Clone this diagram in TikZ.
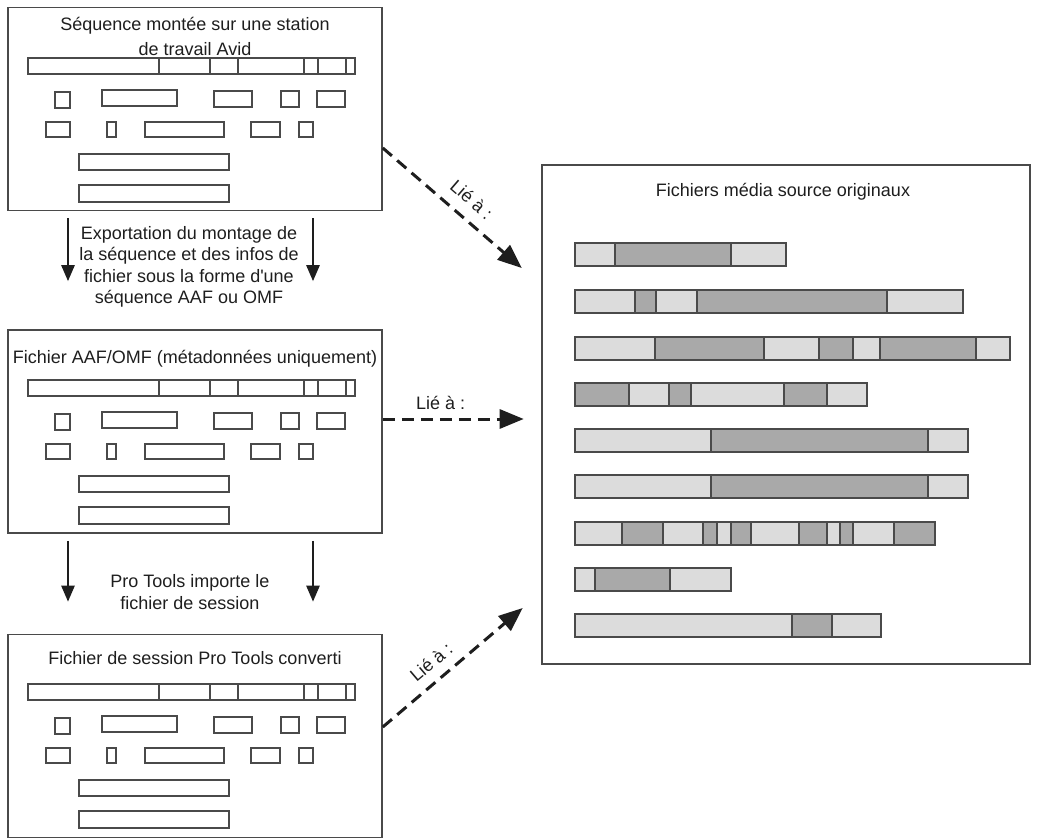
\documentclass[tikz,border=0pt]{standalone}
\usepackage{fontspec}
\setmainfont{Liberation Sans}
\usepackage{tikz}
\usetikzlibrary{arrows.meta, positioning, calc}

\definecolor{edgegray}{HTML}{4A4A4A}
\definecolor{inkgray}{HTML}{1E1E1E}
\definecolor{cliplight}{HTML}{DCDCDC}
\definecolor{clipdark}{HTML}{A9A9A9}

\tikzset{
  lbl/.style={font=\fontsize{18}{21.5}\selectfont, text=inkgray, align=center, inner sep=2pt},
  evtbox/.style={draw=edgegray, line width=1.4pt},
  barline/.style={draw=edgegray, line width=1.4pt},
}

% the same clip layout sits in the three left panels
\newcommand{\cliprows}[1]{%
\begin{scope}[shift={(0,#1)}]
\draw[evtbox] (28,58) rectangle (355,74);
\foreach \xd in {159,210,238,304,318,346}
  \draw[evtbox] (\xd,58) -- (\xd,74);
\foreach \xa/\ya/\xb/\yb in {55/92/70/108, 102/90/177/106, 214/91/252/107,
    281/91/299/107, 317/91/345/107, 46/122/70/137, 107/122/116/137,
    145/122/224/137, 251/122/280/137, 299/122/313/137,
    79/154/229/170, 79/185/229/202}
  \draw[evtbox] (\xa,\ya) rectangle (\xb,\yb);
\end{scope}}

\begin{document}
\begin{tikzpicture}[x=1pt, y=-1pt,
  panel/.style={draw=edgegray, line width=1.6pt, minimum width=374pt, minimum height=203pt, inner sep=0pt},
  flow/.style={draw=inkgray, line width=2.5pt, -{Triangle[length=16pt, width=13pt]}},
  linkarrow/.style={draw=inkgray, line width=3pt, dash pattern=on 12pt off 7pt, -{Triangle[length=24pt, width=19pt]}},
  linklbl/.style={lbl, sloped, above=#1},
  linklbl/.default=5pt]
\useasboundingbox (0,0) rectangle (1037,840);

\node[panel] (avid) at (195,109) {};
\node[panel] (aaf) at (195,431.5) {};
\node[panel] (ptsess) at (195,736) {};
\node[draw=edgegray, line width=2.6pt, minimum width=488pt, minimum height=499pt] (sources) at (786,414.5) {};

\node[lbl, font=\fontsize{18}{25}\selectfont] (avidtitle) at (195,36) {Séquence montée sur une station\\de travail Avid};
\node[lbl] (aaftitle) at (195,359) {Fichier AAF/OMF (métadonnées uniquement)};
\node[lbl] (pttitle) at (195,658) {Fichier de session Pro Tools converti};
\node[lbl] (srctitle) at (783,192) {Fichiers média source originaux};

\cliprows{0}
\cliprows{322}
\cliprows{626}

\foreach \yy/\xe/\dk in {243/786/{615/731}, 290/963/{635/656,697/887},
    337/1010/{655/764,819/853,880/976}, 383/867/{575/629,669/691,784/827},
    429/968/{711/928}, 475/968/{711/928},
    522/935/{622/663,703/717,731/751,799/827,840/853,894/935},
    568/731/{595/670}, 614/881/{792/832}} {
  \draw[barline, fill=cliplight] (575,\yy) rectangle (\xe,\yy+23);
  \foreach \a/\b in \dk
    \draw[barline, fill=clipdark] (\a,\yy) rectangle (\b,\yy+23);
}

\draw[flow] ([xshift=-127pt, yshift=-7pt]avid.south) -- ([xshift=-127pt, yshift=48pt]aaf.north);
\draw[flow] ([xshift=118pt, yshift=-7pt]avid.south) -- ([xshift=118pt, yshift=48pt]aaf.north);
\node[lbl] (exporttxt) at (189,267) {Exportation du montage de\\la séquence et des infos de\\fichier sous la forme d\textquotesingle une\\séquence AAF ou OMF};

\draw[flow] ([xshift=-127pt, yshift=-7pt]aaf.south) -- ([xshift=-127pt, yshift=32pt]ptsess.north);
\draw[flow] ([xshift=118pt, yshift=-7pt]aaf.south) -- ([xshift=118pt, yshift=32pt]ptsess.north);
\node[lbl] (importtxt) at (190,592) {Pro Tools importe le\\fichier de session};

\draw[linkarrow] ([yshift=-39pt]avid.east) -- node[linklbl=9pt, pos=0.55] {Lié à :} ([xshift=-19pt, yshift=146.5pt]sources.west);
\draw[linkarrow] ([yshift=12.5pt]aaf.east) -- node[linklbl=5.5pt, pos=0.41] {Lié à :} ([xshift=-17pt, yshift=-4.5pt]sources.west);
\draw[linkarrow] ([yshift=9pt]ptsess.east) -- node[linklbl=8pt, pos=0.43] {Lié à :} ([xshift=-18pt, yshift=-193.5pt]sources.west);
\end{tikzpicture}
\end{document}
